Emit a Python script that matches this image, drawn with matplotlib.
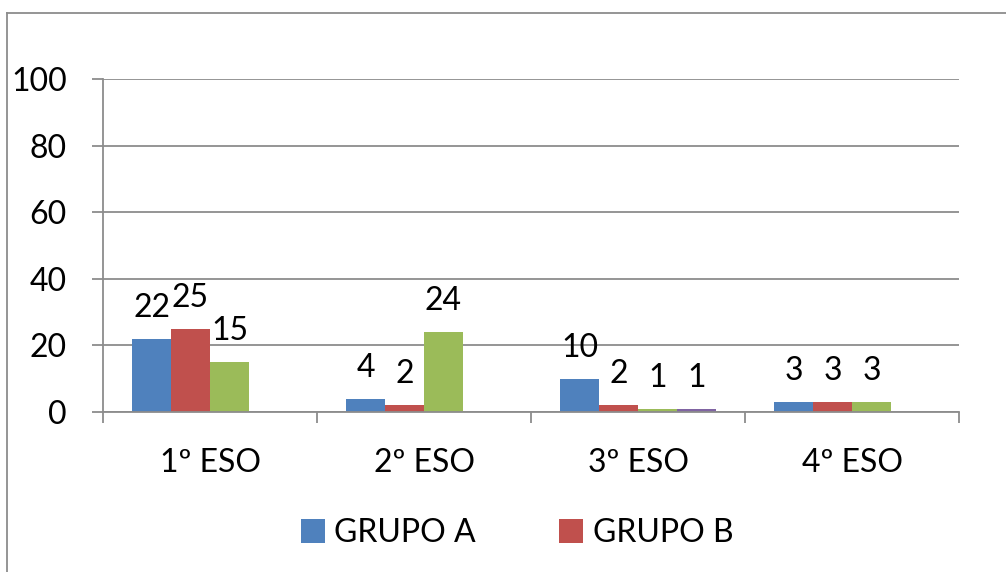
import numpy as np
import matplotlib
matplotlib.use("Agg")
import matplotlib.pyplot as plt
from matplotlib.lines import Line2D
from matplotlib.patches import Patch

categories = ["1º ESO", "2º ESO", "3º ESO", "4º ESO"]
series_names = ["GRUPO A", "GRUPO B", "Serie 3", "Serie 4"]
grupo_a = [22, 4, 10, 3]
grupo_b = [25, 2, 2, 3]
serie_3 = [15, 24, 1, 3]
serie_4 = [np.nan, np.nan, 1, np.nan]
y_ticks = [0, 20, 40, 60, 80, 100]

series = [grupo_a, grupo_b, serie_3, serie_4]
colors = ["#4F81BD", "#C0504D", "#9BBB59", "#8064A2"]
gray = "#8C8C8C"

plt.rcParams['font.family'] = ['Lato', 'DejaVu Sans']

fig = plt.figure(figsize=(10.06, 5.72), dpi=100)
ax = fig.add_axes([103/1006, 1 - 412/572, (959-103)/1006, (412-79)/572])

x = np.arange(len(categories))
w = 0.182
offsets = (np.arange(4) - 1.5) * w
for vals, off, c, name in zip(series, offsets, colors, series_names):
    vals = np.array(vals, dtype=float)
    ax.bar(x + off, vals, width=w, color=c, label=name, zorder=3)
    for xi, v in zip(x + off, vals):
        if not np.isnan(v):
            ax.annotate(f"{int(v)}", (xi, v), xytext=(0, 22), textcoords='offset pixels',
                        ha='center', va='baseline', fontsize=23, color='black', zorder=4)

ax.set_xlim(-0.5, 3.5)
ax.set_ylim(0, 100)
ax.set_yticks(y_ticks)
ax.set_yticklabels([str(t) for t in y_ticks])
ax.yaxis.grid(True, color=gray, lw=1.3, zorder=1)
ax.tick_params(axis='y', length=8, width=1.3, color=gray, pad=18, labelsize=23)

ax.set_xticks(x)
ax.set_xticklabels(categories)
ax.tick_params(axis='x', which='major', length=0, pad=26, labelsize=23)
ax.set_xticks(np.arange(-0.5, 4.0, 1.0), minor=True)
ax.tick_params(axis='x', which='minor', length=8, width=1.3, color=gray)

for s in ['top', 'right']:
    ax.spines[s].set_visible(False)
for s in ['left', 'bottom']:
    ax.spines[s].set_color(gray)
    ax.spines[s].set_linewidth(1.3)
    ax.spines[s].set_zorder(5)

handles = [Patch(facecolor=colors[0], label=series_names[0]),
           Patch(facecolor=colors[1], label=series_names[1])]
fig.legend(handles=handles, loc='center', bbox_to_anchor=(517/1006, 1 - 533/572),
           ncol=2, frameon=False, fontsize=23, handlelength=0.75, handleheight=0.75,
           handletextpad=0.3, columnspacing=2.6, borderaxespad=0)

# outer chart frame (cropped on right and bottom)
fx = 7/1006
fy = 1 - 13/572
fig.add_artist(Line2D([fx, 1.01], [fy, fy], transform=fig.transFigure, color=gray, lw=1.3))
fig.add_artist(Line2D([fx, fx], [-0.01, fy], transform=fig.transFigure, color=gray, lw=1.3))

fig.savefig("out.png", dpi=100)
